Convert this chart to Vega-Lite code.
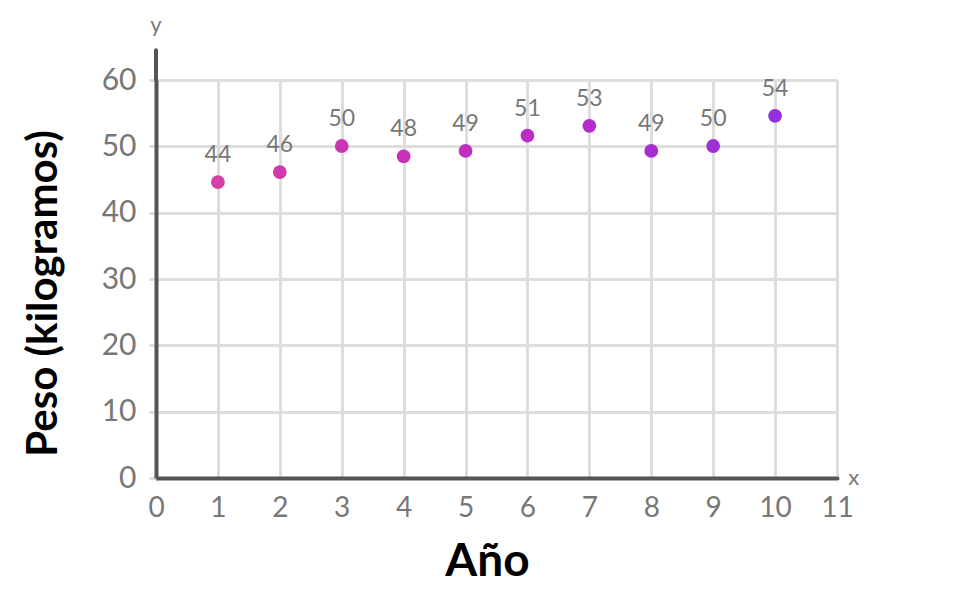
{
  "$schema": "https://vega.github.io/schema/vega-lite/v6.json",
  "width": 681,
  "height": 398,
  "autosize": {"type": "none"},
  "padding": {"left": 156, "top": 80, "right": 118, "bottom": 123},
  "background": "white",
  "config": {
    "view": {"stroke": null},
    "font": "Lato"
  },
  "datasets": {
    "pesos": [
      {"anio": 1, "peso": 44.6, "etiqueta": "44"},
      {"anio": 2, "peso": 46.1, "etiqueta": "46"},
      {"anio": 3, "peso": 50.05, "etiqueta": "50"},
      {"anio": 4, "peso": 48.5, "etiqueta": "48"},
      {"anio": 5, "peso": 49.3, "etiqueta": "49"},
      {"anio": 6, "peso": 51.6, "etiqueta": "51"},
      {"anio": 7, "peso": 53.1, "etiqueta": "53"},
      {"anio": 8, "peso": 49.3, "etiqueta": "49"},
      {"anio": 9, "peso": 50.05, "etiqueta": "50"},
      {"anio": 10, "peso": 54.6, "etiqueta": "54"}
    ],
    "ejes": [
      {"nombre": "y", "ex": 0, "ey": 68.3},
      {"nombre": "x", "ex": 11.27, "ey": 0}
    ],
    "extension": [
      {"ex": 0, "ey": 60, "ey2": 64.5}
    ]
  },
  "layer": [
    {
      "data": {"name": "pesos"},
      "mark": {"type": "point", "opacity": 0},
      "encoding": {
        "x": {
          "field": "anio", "type": "quantitative",
          "scale": {"domain": [0, 11], "nice": false, "zero": true},
          "axis": {
            "title": "Año",
            "titleFontSize": 46, "titleFontWeight": "bold", "titleColor": "#000000",
            "titlePadding": 17, "titleX": 331,
            "values": [0,1,2,3,4,5,6,7,8,9,10,11],
            "format": "d", "labelOverlap": false, "labelFlush": false,
            "labelFontSize": 28, "labelColor": "#777777", "labelPadding": 16,
            "ticks": false,
            "domainColor": "#555555", "domainWidth": 4, "domainCap": "round",
            "grid": true, "gridColor": "#dddddd", "gridWidth": 3
          }
        },
        "y": {
          "field": "peso", "type": "quantitative",
          "scale": {"domain": [0, 60], "nice": false},
          "axis": {
            "title": "Peso (kilogramos)",
            "titleFontSize": 42, "titleFontWeight": "bold", "titleColor": "#000000",
            "titlePadding": 36, "titleY": 213,
            "values": [0,10,20,30,40,50,60],
            "format": "d", "labelOverlap": false, "labelFlush": false,
            "labelFontSize": 30, "labelColor": "#777777", "labelPadding": 13,
            "tickSize": 7, "tickWidth": 3, "tickColor": "#dddddd",
            "domainColor": "#555555", "domainWidth": 4,
            "grid": true, "gridColor": "#dddddd", "gridWidth": 3
          }
        }
      }
    },
    {
      "data": {"name": "extension"},
      "mark": {"type": "rule", "color": "#555555", "strokeWidth": 4, "clip": false, "strokeCap": "round"},
      "encoding": {
        "x": {"field": "ex", "type": "quantitative"},
        "y": {"field": "ey", "type": "quantitative"},
        "y2": {"field": "ey2"}
      }
    },
    {
      "data": {"name": "pesos"},
      "mark": {"type": "circle", "size": 190, "opacity": 1},
      "encoding": {
        "x": {"field": "anio", "type": "quantitative"},
        "y": {"field": "peso", "type": "quantitative"},
        "color": {
          "field": "anio", "type": "quantitative",
          "scale": {"domain": [1, 10], "range": ["#d43fa8", "#9530dc"]},
          "legend": null
        }
      }
    },
    {
      "data": {"name": "pesos"},
      "mark": {"type": "text", "fontSize": 23, "color": "#777777", "dy": -27, "baseline": "middle"},
      "encoding": {
        "x": {"field": "anio", "type": "quantitative"},
        "y": {"field": "peso", "type": "quantitative"},
        "text": {"field": "etiqueta"}
      }
    },
    {
      "data": {"name": "ejes"},
      "mark": {"type": "text", "fontSize": 22, "color": "#777777", "baseline": "middle", "clip": false},
      "encoding": {
        "x": {"field": "ex", "type": "quantitative"},
        "y": {"field": "ey", "type": "quantitative"},
        "text": {"field": "nombre"}
      }
    }
  ]
}
